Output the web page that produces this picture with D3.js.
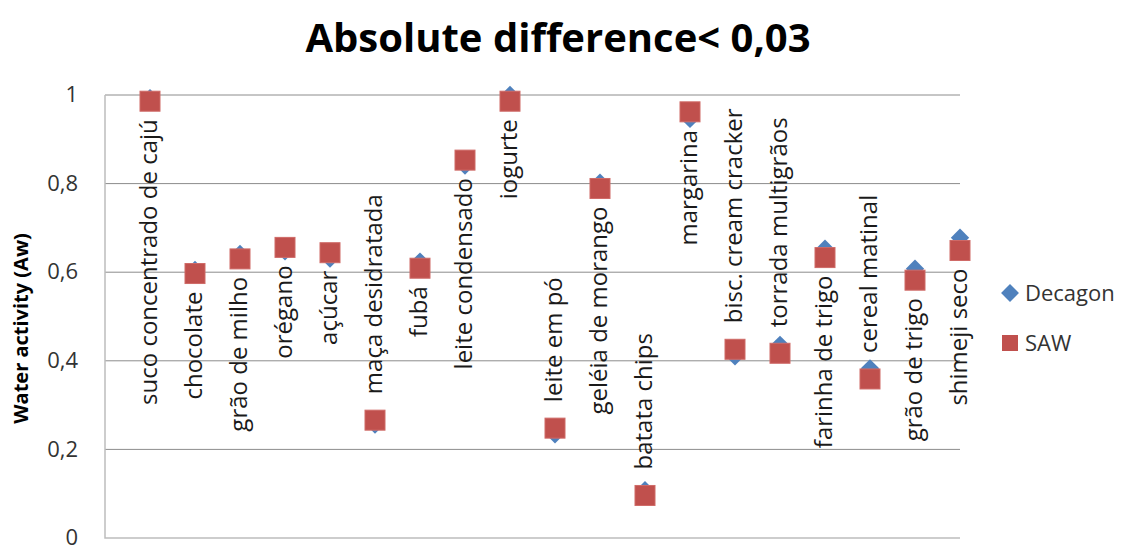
<!DOCTYPE html>
<html>
<head>
    <meta charset="utf-8">
    <title>Absolute difference &lt; 0,03</title>
    <script src="https://d3js.org/d3.v7.min.js"></script>
    <style>
        body { margin: 0; background: #fff; }
        svg { display: block; }
        text { font-family: "Open Sans", "Liberation Sans", sans-serif; }
        .title { font-size: 40px; font-weight: bold; fill: #000; text-anchor: middle; }
        .axis-title { font-size: 20px; font-weight: bold; fill: #000; text-anchor: middle; }
        .tick-label { font-size: 22px; fill: #333; }
        .cat-label { font-size: 24px; fill: #1a1a1a; }
        .legend-label { font-size: 22px; fill: #333; }
        .grid { stroke: #8c8c8c; stroke-width: 1; }
        .frame { stroke: #bdbdbd; stroke-width: 1.5; fill: none; }
    </style>
</head>
<body>
<div id="chart"></div>
<script>
    // categorias (amostras)
    const categories = [
        "suco concentrado de cajú", "chocolate", "grão de milho", "orégano", "açúcar",
        "maça desidratada", "fubá", "leite condensado", "iogurte", "leite em pó",
        "geléia de morango", "batata chips", "margarina", "bisc. cream cracker",
        "torrada multigrãos", "farinha de trigo", "cereal matinal", "grão de trigo", "shimeji seco"
    ];

    // Aw medido com Decagon
    const decagon = [0.993, 0.605, 0.641, 0.647, 0.631, 0.256, 0.624, 0.841, 1.0, 0.234,
                     0.802, 0.108, 0.946, 0.41, 0.436, 0.653, 0.383, 0.608, 0.678];

    // Aw medido com SAW
    const saw = [0.986, 0.597, 0.630, 0.656, 0.644, 0.266, 0.609, 0.853, 0.986, 0.248,
                 0.789, 0.096, 0.962, 0.426, 0.417, 0.633, 0.359, 0.582, 0.649];

    const yTicks = [0, 0.2, 0.4, 0.6, 0.8, 1];
    const seriesNames = ["Decagon", "SAW"];

    const W = 1125, H = 548;
    const plot = { left: 105, right: 960, top: 95, bottom: 538 };

    const svg = d3.select("#chart").append("svg")
        .attr("width", W)
        .attr("height", H);

    const x = d3.scaleLinear().domain([0, categories.length]).range([plot.left, plot.right]);
    const y = d3.scaleLinear().domain([0, 1]).range([plot.bottom, plot.top]);

    const fmt = d3.formatLocale({ decimal: ",", thousands: ".", grouping: [3], currency: ["", ""] }).format("~g");

    // linhas de grade
    svg.append("g")
        .selectAll("line")
        .data(yTicks.filter(d => d > 0))
        .enter()
        .append("line")
        .attr("class", "grid")
        .attr("x1", plot.left)
        .attr("x2", plot.right)
        .attr("y1", d => y(d))
        .attr("y2", d => y(d));

    // eixos (esquerdo e inferior)
    svg.append("path")
        .attr("class", "frame")
        .attr("d", `M${plot.left},${y(1)}V${y(0)}H${plot.right}`);

    // rótulos do eixo Y
    svg.append("g")
        .attr("transform", `translate(${plot.left - 27},0)`)
        .call(d3.axisLeft(y).tickValues(yTicks).tickFormat(fmt).tickSize(0))
        .call(g => g.select(".domain").remove())
        .call(g => g.selectAll("text")
            .attr("class", "tick-label")
            .attr("dy", "0.3em")
            .attr("x", 0)
            .style("font-family", null)
            .style("font-size", null));

    // título do eixo Y
    svg.append("text")
        .attr("class", "axis-title")
        .attr("transform", `translate(28,${(plot.top + plot.bottom) / 2 + 12}) rotate(-90)`)
        .text("Water activity (Aw)");

    // título
    svg.append("text")
        .attr("class", "title")
        .attr("x", 558)
        .attr("y", 52)
        .text("Absolute difference< 0,03");

    const diamond = d3.symbol().type(d3.symbolSquare).size(169);

    // rótulos das categorias (abaixo se Aw > 0,5, acima caso contrário)
    svg.append("g")
        .selectAll("text")
        .data(categories)
        .enter()
        .append("text")
        .attr("class", "cat-label")
        .attr("dy", "0.35em")
        .attr("text-anchor", (d, i) => saw[i] > 0.5 ? "end" : "start")
        .attr("transform", (d, i) => {
            const cy = saw[i] > 0.5 ? y(saw[i]) + 18 : y(saw[i]) - 26;
            return `translate(${x(i + 1) - 1},${cy}) rotate(-90)`;
        })
        .text(d => d);

    // série Decagon
    svg.append("g")
        .selectAll("path")
        .data(decagon)
        .enter()
        .append("path")
        .attr("d", diamond)
        .attr("fill", "#4F81BD")
        .attr("transform", (d, i) => `translate(${x(i + 1)},${y(d)}) rotate(45)`);

    // série SAW
    svg.append("g")
        .selectAll("rect")
        .data(saw)
        .enter()
        .append("rect")
        .attr("x", (d, i) => x(i + 1) - 10)
        .attr("y", d => y(d) - 10)
        .attr("width", 20)
        .attr("height", 20)
        .attr("fill", "#C0504D")
        .attr("stroke", "#cf6a67")
        .attr("stroke-width", 1);

    // legenda
    const legend = svg.append("g").attr("transform", "translate(1010,293)");
    legend.append("path")
        .attr("d", d3.symbol().type(d3.symbolSquare).size(160))
        .attr("fill", "#4F81BD")
        .attr("transform", "rotate(45)");
    legend.append("rect")
        .attr("x", -8).attr("y", 42)
        .attr("width", 16).attr("height", 16)
        .attr("fill", "#C0504D");
    legend.selectAll("text.legend-label")
        .data(seriesNames)
        .enter()
        .append("text")
        .attr("class", "legend-label")
        .attr("x", 15)
        .attr("y", (d, i) => i * 50)
        .attr("dy", "0.35em")
        .text(d => d);
</script>
</body>
</html>
